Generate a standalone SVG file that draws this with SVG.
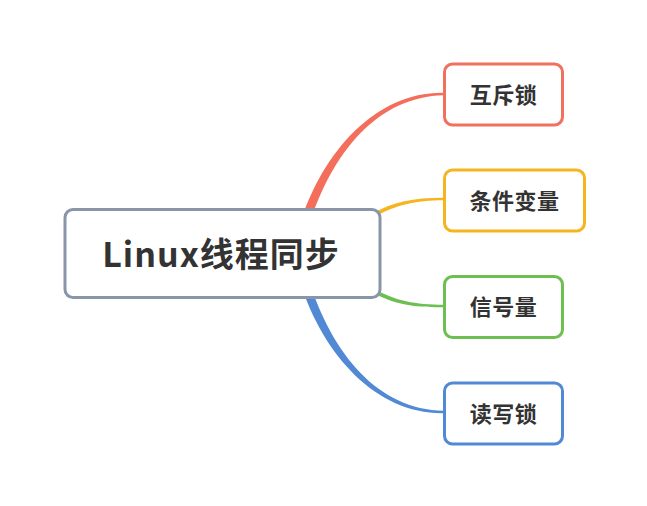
<svg xmlns="http://www.w3.org/2000/svg" width="647" height="506" viewBox="0 0 647 506">
<style>
.box{fill:#fff;stroke-width:3}
.t{font-family:"Noto Sans CJK SC","Noto Sans",sans-serif;font-weight:bold;fill:#333;text-anchor:middle;dominant-baseline:central}
.c{font-size:22px;letter-spacing:0.5px}
</style>
<rect width="647" height="506" fill="#fff"/>
<g id="connectors">
<path d="M299.7,224.7 C323.7,148.7 378,91.5 444,92.8 L444,95.2 C378,96.5 332.3,151.3 308.3,227.3 Z" fill="#F36F5C"/>
<path d="M371,214.3 C394,201.3 415,197.6 444,197.8 L444,200.2 C415,200.4 396,204.7 373,217.7 Z" fill="#F6B51E"/>
<path d="M371,291.7 C394,304.7 415,307.4 444,307.2 L444,304.8 C415,304.6 396,301.3 373,288.3 Z" fill="#6DBF52"/>
<path d="M299.7,281.3 C323.7,357.3 378,414.5 444,413.2 L444,410.8 C378,409.5 332.3,354.7 308.3,278.7 Z" fill="#5189D5"/>
</g>
<g id="root">
<rect class="box" x="65" y="209.5" width="315" height="88" rx="8" stroke="#8995A8"/>
<text class="t" x="221" y="252" font-size="34" letter-spacing="1">Linux线程同步</text>
</g>
<g id="n1">
<rect class="box" x="444.5" y="64" width="118" height="61" rx="8" stroke="#F1715F"/>
<text class="t c" x="503.5" y="92.5">互斥锁</text>
</g>
<g id="n2">
<rect class="box" x="444.5" y="170" width="140" height="61" rx="8" stroke="#F6B51E"/>
<text class="t c" x="514.5" y="198.5">条件变量</text>
</g>
<g id="n3">
<rect class="box" x="444.5" y="276.5" width="118" height="61" rx="8" stroke="#6DBF52"/>
<text class="t c" x="503.5" y="305">信号量</text>
</g>
<g id="n4">
<rect class="box" x="444.5" y="383" width="118" height="61" rx="8" stroke="#5189D5"/>
<text class="t c" x="503.5" y="411.5">读写锁</text>
</g>
</svg>
